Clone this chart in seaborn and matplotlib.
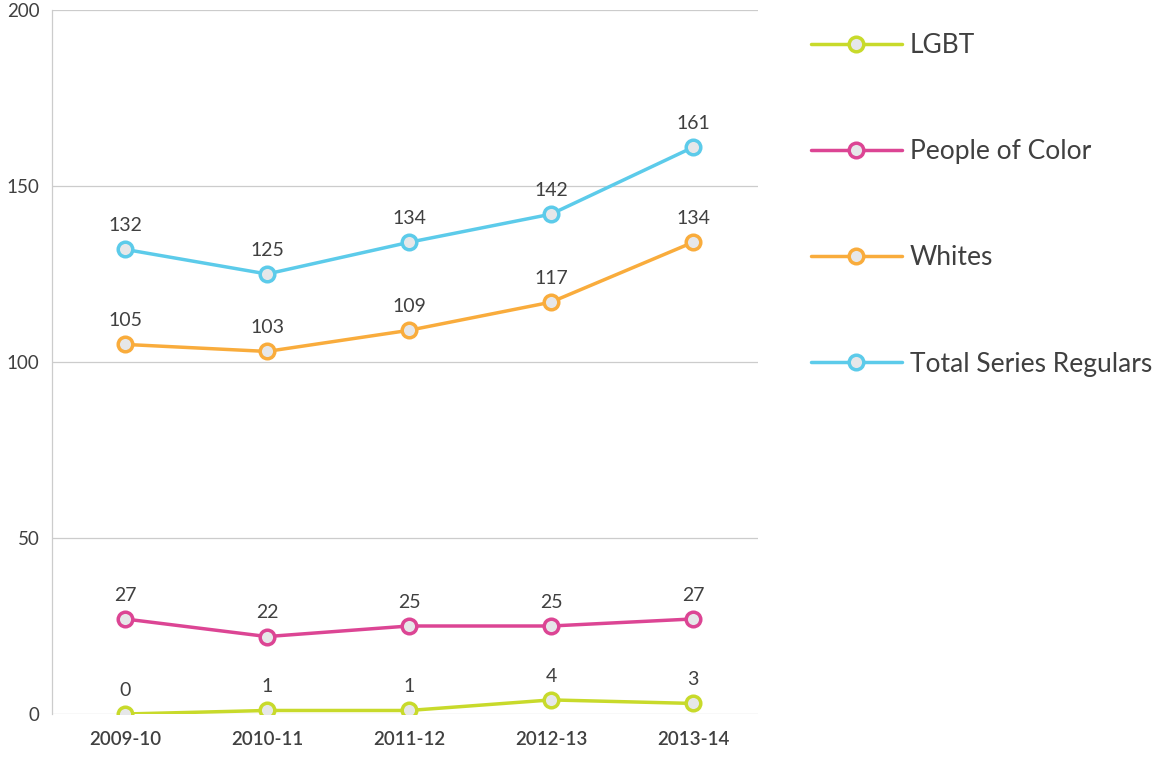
import pandas as pd
import seaborn as sns
import matplotlib.pyplot as plt
from matplotlib.lines import Line2D

seasons = ["2009-10", "2010-11", "2011-12", "2012-13", "2013-14"]
lgbt = [0, 1, 1, 4, 3]
people_of_color = [27, 22, 25, 25, 27]
whites = [105, 103, 109, 117, 134]
total_regulars = [132, 125, 134, 142, 161]

series_names = ["LGBT", "People of Color", "Whites", "Total Series Regulars"]
series_values = [lgbt, people_of_color, whites, total_regulars]
colors = ["#c8da2b", "#dc4594", "#f9ac3c", "#5ccbea"]
y_ticks = [0, 50, 100, 150, 200]

rows = []
for name, vals in zip(series_names, series_values):
    for s, v in zip(seasons, vals):
        rows.append({"season": s, "value": v, "series": name})
df = pd.DataFrame(rows)

sns.set_style("white")
plt.rcParams["font.family"] = ["Lato", "DejaVu Sans"]
text_col = "#404040"

fig = plt.figure(figsize=(11.69, 7.57), dpi=100)
ax = fig.add_axes([52 / 1169, 1 - 714 / 757, (758 - 52) / 1169, (714 - 10) / 757])

palette = dict(zip(series_names, colors))
sns.lineplot(data=df, x="season", y="value", hue="series", palette=palette,
             hue_order=series_names, marker="o", markersize=10.5,
             markeredgewidth=2.5, markerfacecolor="#e6e7e9", linewidth=2.5,
             legend=False, ax=ax, zorder=3)
# marker edge in the line colour
for line, c in zip(ax.lines, colors):
    line.set_markeredgecolor(c)

for name, vals in zip(series_names, series_values):
    for i, v in enumerate(vals):
        ax.annotate(str(v), (i, v), xytext=(0, 11), textcoords="offset points",
                    ha="center", va="bottom", fontsize=14, color=text_col)

ax.set_xlim(-0.514, 4.458)
ax.set_ylim(0, 200)
ax.set_yticks(y_ticks)
ax.set_yticklabels([str(t) for t in y_ticks], fontsize=13.5, color=text_col)
ax.set_xticks(range(len(seasons)))
ax.set_xticklabels(seasons, fontsize=13.5, color=text_col, fontweight="semibold")
ax.set_xlabel("")
ax.set_ylabel("")
ax.grid(axis="y", color="#cccccc", linewidth=0.9)
ax.grid(axis="x", visible=False)
for side in ["top", "right", "bottom"]:
    ax.spines[side].set_visible(False)
ax.spines["left"].set_color("#cccccc")
ax.spines["left"].set_linewidth(0.9)
ax.tick_params(axis="y", length=0, pad=9)
ax.tick_params(axis="x", length=3, color="#888888", pad=9)

handles = [Line2D([0], [0], color=c, linewidth=2.5, marker="o", markersize=10.5,
                  markeredgewidth=2.5, markerfacecolor="#e6e7e9", markeredgecolor=c)
           for c in colors]
fig.legend(handles, series_names, loc="upper left",
           bbox_to_anchor=(787 / 1169, 1 - 9 / 757), frameon=False,
           fontsize=19, handlelength=3.45, handletextpad=0.3,
           labelspacing=3.08, labelcolor=text_col)

fig.savefig("out.png", dpi=100)
